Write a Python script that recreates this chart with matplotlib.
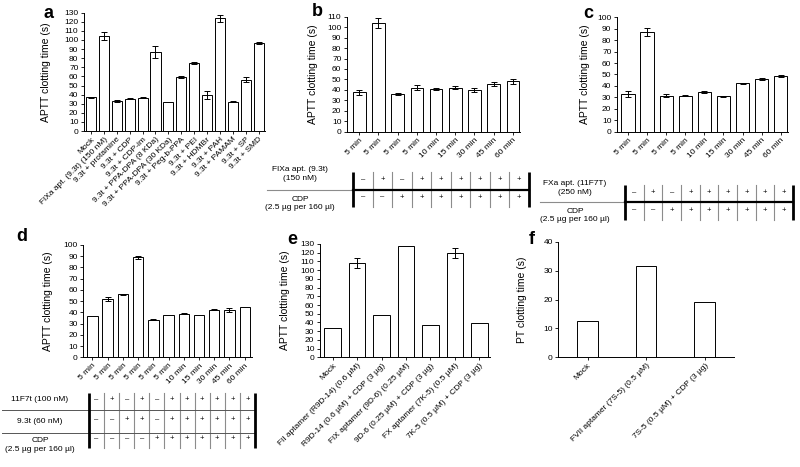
import numpy as np
import matplotlib
matplotlib.use('Agg')
import matplotlib.pyplot as plt

plt.rcParams['font.family'] = ['Liberation Sans', 'DejaVu Sans']

W, H = 800, 467

# panel a
a_labels = ['Mock', 'FIXa apt. (9.3t) (150 nM)', '9.3t + protamine', '9.3t + CDP',
            '9.3t + CDP-im', '9.3t + PPA-DPA (8 KDa)', '9.3t + PPA-DPA (30 KDa)',
            '9.3t + Peg-b-PPA', '9.3t + PEI', '9.3t + HDMBr', '9.3t + PAH',
            '9.3t + PAMAM', '9.3t + SP', '9.3t + SMD']
a_vals = [37, 104.4, 33, 35.5, 36.6, 87, 32, 59.3, 75, 39.2, 123.8, 32, 56.4, 96.7]
a_err = [0.8, 4.6, 0.8, 0.8, 0.6, 6.4, 0, 0.8, 1.0, 4.5, 4.2, 0.6, 2.5, 1.2]

# panel b
min_labels = ['5 min', '5 min', '5 min', '5 min', '10 min', '15 min', '30 min', '45 min', '60 min']
b_vals = [37.7, 103.7, 35.8, 42, 40.9, 42, 39.9, 45.6, 48.2]
b_err = [2.3, 4.8, 1.0, 2.3, 1.0, 1.5, 2.0, 2.3, 2.3]
b_rows = [['-', '+', '-', '+', '+', '+', '+', '+', '+'],
          ['-', '-', '+', '+', '+', '+', '+', '+', '+']]
b_row_labels = ['FIXa apt. (9.3t)\n(150 nM)', 'CDP\n(2.5 \u00b5g per 160 \u00b5l)']

# panel c
c_vals = [33, 87, 31.5, 31.5, 34.7, 31, 42.3, 46.1, 48.5]
c_err = [3.0, 3.6, 1.5, 0.5, 0.5, 0.5, 0.7, 0.5, 1.0]
c_rows = [['-', '+', '-', '+', '+', '+', '+', '+', '+'],
          ['-', '-', '+', '+', '+', '+', '+', '+', '+']]
c_row_labels = ['FXa apt. (11F7T)\n(250 nM)', 'CDP\n(2.5 \u00b5g per 160 \u00b5l)']

# panel d
d_labels = ['5 min'] * 6 + ['10 min', '15 min', '30 min', '45 min', '60 min']
d_vals = [37, 51.5, 56, 89, 33.5, 37.5, 39, 37.5, 42.5, 42, 45]
d_err = [0, 1.8, 0.7, 1.5, 0.4, 0, 0.4, 0, 0.5, 1.5, 0]
d_rows = [['-', '+', '-', '+', '-', '+', '+', '+', '+', '+', '+'],
          ['-', '-', '+', '+', '-', '+', '+', '+', '+', '+', '+'],
          ['-', '-', '-', '-', '+', '+', '+', '+', '+', '+', '+']]
d_row_labels = ['11F7t (100 nM)', '9.3t (60 nM)', 'CDP\n(2.5 \u00b5g per 160 \u00b5l)']

# panel e
e_labels = ['Mock', 'FII aptamer (R9D-14) (0.6 \u00b5M)', 'R9D-14 (0.6 \u00b5M) + CDP (3 \u00b5g)',
            'FIX aptamer (9D-6) (0.25 \u00b5M)', '9D-6 (0.25 \u00b5M) + CDP (3 \u00b5g)',
            'FX aptamer (7K-5) (0.5 \u00b5M)', '7K-5 (0.5 \u00b5M) + CDP (3 \u00b5g)']
e_vals = [34, 108, 49, 128, 36.5, 119.5, 39.5]
e_err = [0, 5.5, 0, 0, 0, 6.0, 0]

# panel f
f_labels = ['Mock', 'FVII aptamer (7S-5) (0.5 \u00b5M)', '7S-5 (0.5 \u00b5M) + CDP (3 \u00b5g)']
f_vals = [12.7, 31.5, 19.2]

fig = plt.figure(figsize=(8, 4.67), dpi=100)


def px_rect(x0, y0, x1, y1):
    return [x0 / W, 1 - y1 / H, (x1 - x0) / W, (y1 - y0) / H]


def bar_panel(rect, labels, vals, err, ymax, step, width, xlim, ylab, labx):
    ax = fig.add_axes(rect)
    x = np.arange(len(vals))
    ax.bar(x, vals, width=width, color='white', edgecolor='black', linewidth=0.7, zorder=2)
    if err is not None:
        e = np.array(err, dtype=float)
        m = e > 0
        ax.errorbar(x[m], np.array(vals)[m], yerr=e[m], fmt='none', ecolor='black',
                    elinewidth=0.7, capsize=2.2, capthick=0.7, zorder=3)
    ax.set_xlim(*xlim)
    ax.set_ylim(0, ymax)
    ax.set_yticks(np.arange(0, ymax + 1, step))
    ax.set_xticks(x)
    ax.set_xticklabels(labels, rotation=45, ha='right', rotation_mode='anchor', fontsize=6)
    ax.tick_params(axis='y', labelsize=6, length=2.5, width=0.6, pad=1.5)
    ax.tick_params(axis='x', length=2, width=0.6, pad=1.5)
    for s in ['top', 'right']:
        ax.spines[s].set_visible(False)
    for s in ['left', 'bottom']:
        ax.spines[s].set_linewidth(0.7)
    ax.set_ylabel(ylab, fontsize=7.5)
    ax.yaxis.set_label_coords(labx, 0.5)
    return ax


def draw_table(rect, rows, labels, bounds, label_y, label_x, line_x0, thick_mid):
    tax = fig.add_axes(rect)
    n = len(rows[0])
    tax.set_xlim(0, n)
    tax.set_ylim(1, 0)
    tax.axis('off')
    for i in range(1, n):
        tax.plot([i, i], [0, 1], color='#8c8c8c', lw=0.8, clip_on=False)
    for b in bounds[1:-1]:
        if thick_mid:
            tax.plot([line_x0 * n, 0], [b, b], color='#8c8c8c', lw=0.8, clip_on=False)
            tax.plot([0, n], [b, b], color='black', lw=1.6, clip_on=False)
        else:
            tax.plot([line_x0 * n, n], [b, b], color='#555555', lw=0.7, clip_on=False)
    tax.plot([0, 0], [0, 1], color='black', lw=2.0, solid_capstyle='butt', clip_on=False)
    tax.plot([n, n], [0, 1], color='black', lw=2.0, solid_capstyle='butt', clip_on=False)
    for r, row in enumerate(rows):
        yc = (bounds[r] + bounds[r + 1]) / 2 - 0.03
        for i, s in enumerate(row):
            txt = '\u2013' if s == '-' else '+'
            tax.text(i + 0.5, yc, txt, ha='center', va='center', fontsize=5.5, clip_on=False)
    for lab, ly in zip(labels, label_y):
        tax.text(label_x * n, ly, lab, ha='center', va='center', fontsize=6,
                 linespacing=1.25, multialignment='center', clip_on=False)
    return tax


ylab = 'APTT clotting time (s)'

bar_panel(px_rect(84, 12.7, 265, 131), a_labels, a_vals, a_err, 130, 10, 0.78,
          (-0.55, 13.5), ylab, -0.18)
bar_panel(px_rect(347, 16.7, 520, 131.7), min_labels, b_vals, b_err, 110, 10, 0.65,
          (-0.64, 8.37), ylab, -0.168)
bar_panel(px_rect(617, 17.3, 788, 131.7), min_labels, c_vals, c_err, 100, 10, 0.7,
          (-0.58, 8.38), ylab, -0.158)
bar_panel(px_rect(83.3, 245, 251.7, 357.3), d_labels, d_vals, d_err, 100, 10, 0.68,
          (-0.6, 10.46), ylab, -0.178)
bar_panel(px_rect(320, 244, 490, 357.3), e_labels, e_vals, e_err, 130, 10, 0.68,
          (-0.52, 6.44), ylab, -0.176)
bar_panel(px_rect(558.3, 241.7, 734, 357.3), f_labels, f_vals, None, 40, 10, 0.35,
          (-0.5, 2.5), 'PT clotting time (s)', -0.176)

draw_table(px_rect(353, 172, 529, 207), b_rows, b_row_labels, [0, 0.5, 1],
           [0.06, 0.9], (300 - 353) / 176, (267 - 353) / 176, True)
draw_table(px_rect(625, 185, 793, 220), c_rows, c_row_labels, [0, 0.49, 1],
           [0.086, 0.87], (575 - 625) / 168, (540 - 625) / 168, True)
draw_table(px_rect(89, 393, 255, 448), d_rows, d_row_labels, [0, 17 / 55, 40 / 55, 1],
           [0.127, 0.522, 0.945], (40 - 89) / 166, (2 - 89) / 166, False)

for lt, lx, ly in [('a', 49, 13), ('b', 317, 11), ('c', 588, 13),
                   ('d', 22, 237), ('e', 292, 240), ('f', 532, 240)]:
    fig.text(lx / W, 1 - ly / H, lt, fontsize=13, fontweight='bold', ha='center', va='center')

fig.savefig('out.png', dpi=100)
